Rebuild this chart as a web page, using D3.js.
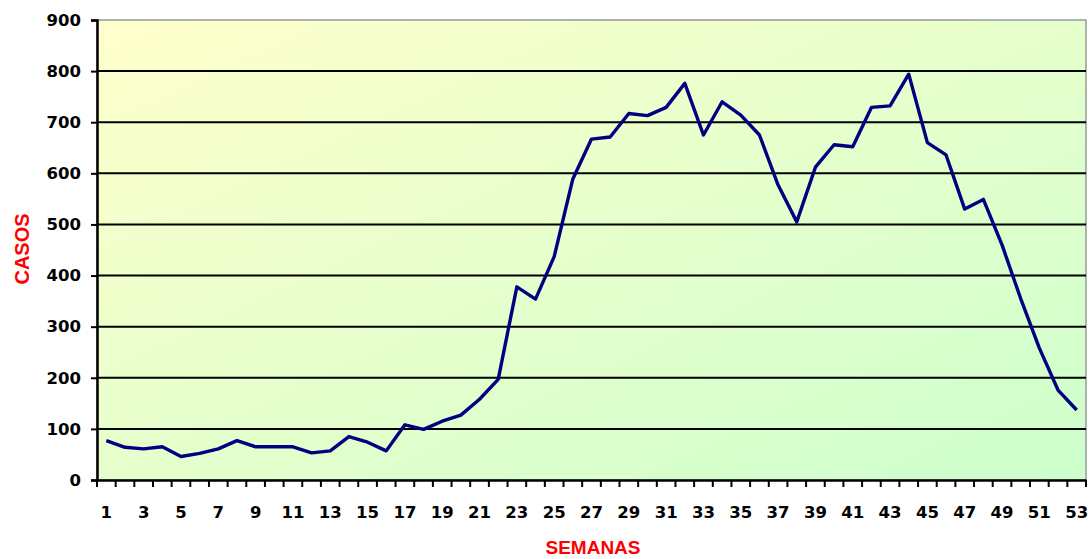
<!DOCTYPE html>
<html>
<head>
<meta charset="utf-8">
<script src="https://cdn.jsdelivr.net/npm/d3@7"></script>
<style>
  body { margin: 0; background: #fff; }
  text { font-family: "Liberation Sans", Arial, sans-serif; font-weight: bold; }
</style>
</head>
<body>
<svg id="chart" width="1090" height="559"></svg>
<script>
const semanas = d3.range(1, 54);
const casos = [77, 64, 61, 65, 46, 52, 61, 77, 65, 65,
  65, 53, 57, 85, 74, 57, 108, 99, 115, 127,
  158, 197, 378, 354, 437, 589, 667, 671, 717, 713,
  729, 776, 675, 740, 714, 675, 577, 505, 612, 656,
  652, 729, 732, 794, 660, 636, 530, 549, 460, 355,
  258, 176, 137];
const yTicks = [0, 100, 200, 300, 400, 500, 600, 700, 800, 900];

const svg = d3.select('#chart');
const mLeft = 97, mRight = 1086, mTop = 20, mBottom = 480;
const tickFont = '"DejaVu Sans", sans-serif';

const x = d3.scaleBand()
  .domain(semanas)
  .range([mLeft, mRight]);

const y = d3.scaleLinear()
  .domain([0, 900])
  .range([mBottom, mTop]);

// background gradient
const grad = svg.append('defs').append('linearGradient')
  .attr('id', 'bg')
  .attr('x1', '0%').attr('y1', '0%')
  .attr('x2', '100%').attr('y2', '100%');
grad.append('stop').attr('offset', '0%').attr('stop-color', '#ffffcc');
grad.append('stop').attr('offset', '100%').attr('stop-color', '#ccffcc');

svg.append('rect')
  .attr('x', mLeft).attr('y', mTop)
  .attr('width', mRight - mLeft).attr('height', mBottom - mTop)
  .attr('fill', 'url(#bg)')
  .attr('stroke', '#999')
  .attr('stroke-width', 1.5);

// gridlines
svg.append('g')
  .selectAll('line')
  .data(yTicks.filter(d => d > 0 && d < 900))
  .join('line')
  .attr('x1', mLeft).attr('x2', mRight)
  .attr('y1', d => y(d)).attr('y2', d => y(d))
  .attr('stroke', '#000')
  .attr('stroke-width', 2);

// y axis
const yAxis = svg.append('g')
  .attr('transform', `translate(${mLeft},0)`)
  .call(d3.axisLeft(y).tickValues(yTicks).tickSize(6).tickPadding(10));
yAxis.select('.domain').attr('stroke-width', 2.5);
yAxis.selectAll('.tick line').attr('stroke-width', 2);
yAxis.selectAll('text').attr('font-size', 16.5).attr('fill', '#000')
  .style('font-family', tickFont);

// x axis: ticks between categories, labels on odd weeks
const xAxis = svg.append('g')
  .attr('transform', `translate(0,${mBottom})`)
  .call(d3.axisBottom(x)
    .tickFormat(d => d % 2 === 1 ? d : '')
    .tickSize(0).tickPadding(26));
xAxis.select('.domain').attr('stroke-width', 2.5);
xAxis.selectAll('text').attr('font-size', 16.5).attr('fill', '#000')
  .style('font-family', tickFont);

svg.append('g')
  .selectAll('line')
  .data(semanas.concat([54]))
  .join('line')
  .attr('x1', d => d <= 53 ? x(d) : mRight)
  .attr('x2', d => d <= 53 ? x(d) : mRight)
  .attr('y1', mBottom).attr('y2', mBottom + 7)
  .attr('stroke', '#000')
  .attr('stroke-width', 2);

// series
const line = d3.line()
  .x((d, i) => x(semanas[i]) + x.bandwidth() / 2)
  .y(d => y(d));

svg.append('path')
  .attr('d', line(casos))
  .attr('fill', 'none')
  .attr('stroke', '#000080')
  .attr('stroke-width', 3.4)
  .attr('stroke-linejoin', 'round');

// axis titles
svg.append('text')
  .attr('transform', 'translate(29,249) rotate(-90)')
  .attr('text-anchor', 'middle')
  .attr('font-size', 20)
  .attr('fill', '#ff0000')
  .text('CASOS');

svg.append('text')
  .attr('x', 593).attr('y', 554)
  .attr('text-anchor', 'middle')
  .attr('font-size', 19)
  .attr('fill', '#ff0000')
  .text('SEMANAS');
</script>
</body>
</html>
